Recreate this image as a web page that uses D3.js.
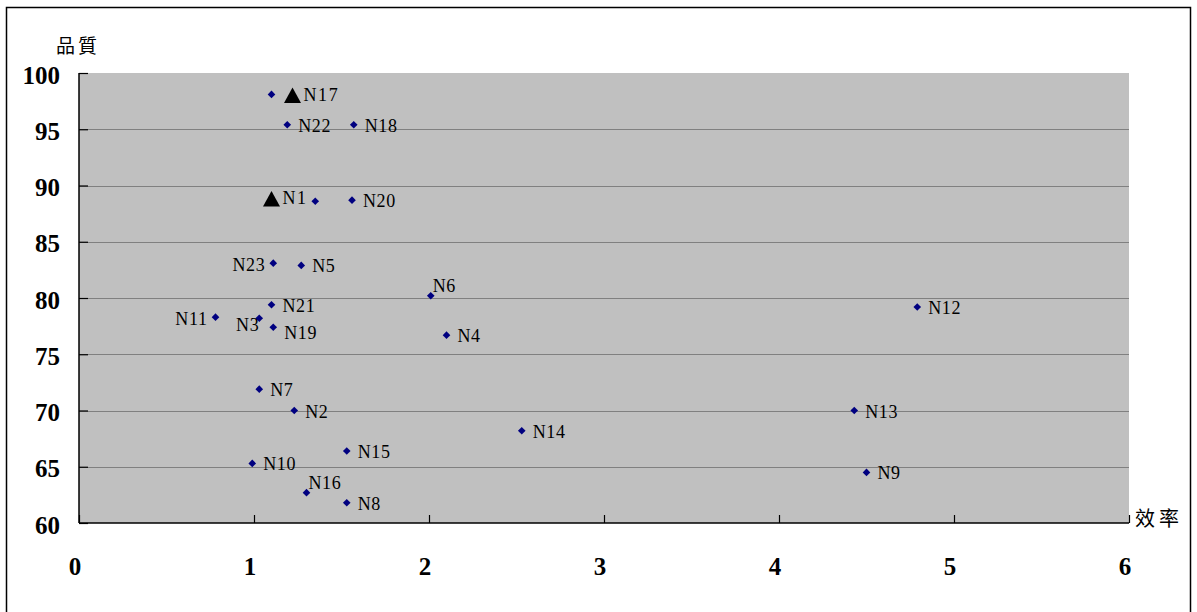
<!DOCTYPE html>
<html>
<head>
<meta charset="utf-8">
<script src="https://cdn.jsdelivr.net/npm/d3@7/dist/d3.min.js"></script>
<style>
  html, body { margin: 0; padding: 0; background: #fff; }
  svg { display: block; }
</style>
</head>
<body>
<svg id="chart" width="1197" height="612"></svg>
<script>
// Units: efficiency (效率) vs quality (品質)
const unitNames = ["N17", "N22", "N18", "N1", "N20", "N23", "N5", "N6", "N21", "N11", "N3", "N19", "N4",
                   "N12", "N7", "N2", "N13", "N14", "N15", "N10", "N9", "N16", "N8"];
const efficiency = [1.10, 1.19, 1.57, 1.35, 1.56, 1.11, 1.27, 2.01, 1.10, 0.78, 1.03, 1.11, 2.10,
                    4.79, 1.03, 1.23, 4.43, 2.53, 1.53, 0.99, 4.50, 1.30, 1.53];
const quality    = [98.1, 95.4, 95.4, 88.6, 88.7, 83.1, 82.9, 80.2, 79.4, 78.3, 78.2, 77.4, 76.7,
                    79.2, 71.9, 70.0, 70.0, 68.2, 66.4, 65.3, 64.5, 62.7, 61.8];

// Reference units marked with triangles
const refNames      = ["N17", "N1"];
const refEfficiency = [1.22, 1.10];
const refQuality    = [98.0, 88.8];

const xTicks = [0, 1, 2, 3, 4, 5, 6];
const yTicks = [60, 65, 70, 75, 80, 85, 90, 95, 100];
const xTitle = "效率";
const yTitle = "品質";

// Where each diamond's name sits relative to its marker
const labelSide = {
  N17: "none", N1: "none", N23: "left", N11: "left", N3: "belowLeft",
  N19: "belowRight", N6: "above", N16: "above"
};

const svg = d3.select("#chart");
const plot = { left: 79, top: 73, right: 1129, bottom: 523 };

const x = d3.scaleLinear().domain([0, 6]).range([plot.left, plot.right]);
const y = d3.scaleLinear().domain([60, 100]).range([plot.bottom, plot.top]);

// outer frame
svg.append("rect")
  .attr("x", 6.5).attr("y", 7.5).attr("width", 1184).attr("height", 620)
  .attr("fill", "#fff").attr("stroke", "#000").attr("stroke-width", 1.5);

// plot background
svg.append("rect")
  .attr("x", plot.left).attr("y", plot.top)
  .attr("width", plot.right - plot.left).attr("height", plot.bottom - plot.top)
  .attr("fill", "#c0c0c0");

// horizontal gridlines
svg.append("g")
  .selectAll("line")
  .data(yTicks.filter(d => d > 60 && d < 100))
  .join("line")
  .attr("x1", plot.left).attr("x2", plot.right)
  .attr("y1", d => Math.round(y(d)) + 0.5).attr("y2", d => Math.round(y(d)) + 0.5)
  .attr("stroke", "#808080").attr("stroke-width", 1.2);

// y axis (ticks point inward)
const yAxis = d3.axisRight(y).tickValues(yTicks).tickSize(9).tickFormat("");
const gy = svg.append("g").attr("transform", `translate(${plot.left},0)`).call(yAxis);
gy.select(".domain").attr("stroke", "#000").attr("stroke-width", 1.5).attr("d", `M0,${plot.top}V${plot.bottom}`);
gy.selectAll(".tick line").attr("stroke", "#000").attr("stroke-width", 1.2);

// x axis (ticks point inward)
const xAxis = d3.axisTop(x).tickValues(xTicks).tickSize(8).tickFormat("");
const gx = svg.append("g").attr("transform", `translate(0,${plot.bottom})`).call(xAxis);
gx.select(".domain").attr("stroke", "#000").attr("stroke-width", 1.5).attr("d", `M${plot.left},0H${plot.right}`);
gx.selectAll(".tick line").attr("stroke", "#000").attr("stroke-width", 1.2);

// tick labels
const tickFont = "'Liberation Serif', 'DejaVu Serif', serif";
svg.append("g").selectAll("text")
  .data(yTicks).join("text")
  .attr("x", 60).attr("y", d => y(d) + 2)
  .attr("text-anchor", "end").attr("dominant-baseline", "central")
  .attr("font-family", tickFont).attr("font-weight", "bold").attr("font-size", 25)
  .text(d => d);

svg.append("g").selectAll("text")
  .data(xTicks).join("text")
  .attr("x", d => x(d) - 4).attr("y", 566)
  .attr("text-anchor", "middle").attr("dominant-baseline", "central")
  .attr("font-family", tickFont).attr("font-weight", "bold").attr("font-size", 25)
  .text(d => d);

// axis titles
const cjkFont = "'Noto Sans CJK TC', 'Noto Sans CJK SC', sans-serif";
svg.append("text")
  .attr("x", 78).attr("y", 44)
  .attr("text-anchor", "middle").attr("dominant-baseline", "central")
  .attr("font-family", cjkFont).attr("font-size", 19).attr("letter-spacing", 3)
  .text(yTitle);
svg.append("text")
  .attr("x", 1135).attr("y", 517)
  .attr("dominant-baseline", "central")
  .attr("font-family", cjkFont).attr("font-size", 20).attr("letter-spacing", 4)
  .text(xTitle);

// diamond markers
const units = unitNames.map((n, i) => ({ name: n, ex: efficiency[i], q: quality[i] }));
const diamond = (cx, cy, r) => `M${cx},${cy - r}L${cx + r},${cy}L${cx},${cy + r}L${cx - r},${cy}Z`;

svg.append("g").selectAll("path")
  .data(units).join("path")
  .attr("d", d => diamond(x(d.ex), y(d.q), 3.8))
  .attr("fill", "#000080");

// reference triangles
const refs = refNames.map((n, i) => ({ name: n, ex: refEfficiency[i], q: refQuality[i] }));
const tri = (cx, cy) => `M${cx - 8.5},${cy + 7.5}L${cx},${cy - 8}L${cx + 8.5},${cy + 7.5}Z`;
svg.append("g").selectAll("path")
  .data(refs).join("path")
  .attr("d", d => tri(x(d.ex), y(d.q)))
  .attr("fill", "#000");

// labels
const labelFont = "'Liberation Serif', 'DejaVu Serif', serif";
const placement = {
  right:      { dx: 11, dy: 1, anchor: "start" },
  left:       { dx: -8, dy: 2, anchor: "end" },
  belowLeft:  { dx: 0, dy: 7, anchor: "end" },
  belowRight: { dx: 11, dy: 6, anchor: "start" },
  above:      { dx: 2, dy: -10, anchor: "start" }
};

svg.append("g").selectAll("text")
  .data(units.filter(d => labelSide[d.name] !== "none")).join("text")
  .each(function (d) {
    const p = placement[labelSide[d.name] || "right"];
    d3.select(this)
      .attr("x", x(d.ex) + p.dx).attr("y", y(d.q) + p.dy)
      .attr("text-anchor", p.anchor);
  })
  .attr("dominant-baseline", "central")
  .attr("font-family", labelFont).attr("font-size", 18).attr("letter-spacing", 0.6)
  .text(d => d.name);

svg.append("g").selectAll("text")
  .data(refs).join("text")
  .attr("x", d => x(d.ex) + 11).attr("y", d => y(d.q) - 1)
  .attr("dominant-baseline", "central")
  .attr("font-family", labelFont).attr("font-size", 18).attr("letter-spacing", 1.6)
  .text(d => d.name);
</script>
</body>
</html>
